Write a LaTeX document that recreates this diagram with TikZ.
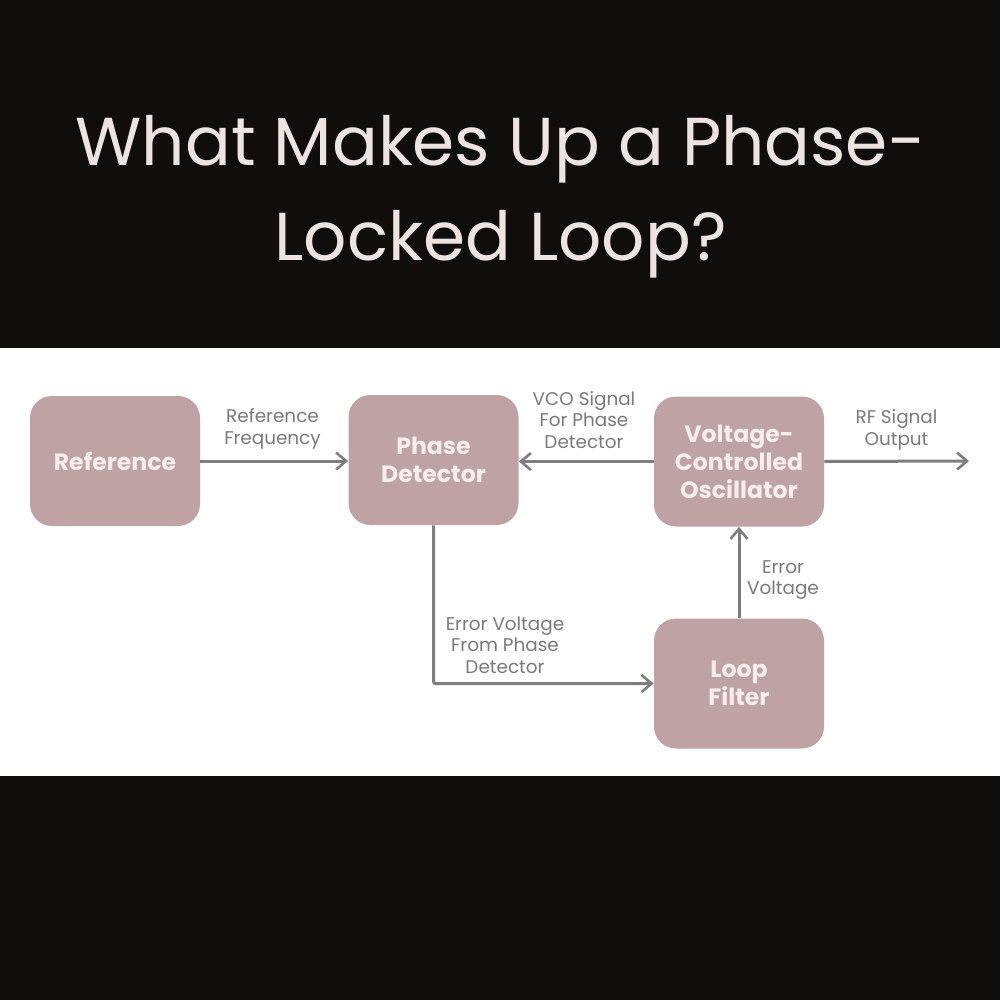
\documentclass[tikz,border=0pt]{standalone}
\usepackage{fontspec}
\setmainfont{Poppins}
\usetikzlibrary{arrows.meta}
\definecolor{bgdark}{HTML}{0F0E0D}
\definecolor{boxfill}{HTML}{BFA2A4}
\definecolor{boxtext}{HTML}{F7EEEB}
\definecolor{titletext}{HTML}{EDE3E1}
\definecolor{wire}{HTML}{7E7E7E}
\definecolor{lbl}{HTML}{7A7A7A}
\tikzset{
  x=0.5pt,y=-0.5pt,
  blockbox/.style={draw=none,fill=boxfill,rounded corners=11pt,minimum width=85pt,minimum height=65pt,inner sep=0pt,align=center,text=boxtext,font=\fontsize{11.8pt}{14pt}\selectfont\bfseries},
  wirelabel/.style={align=center,text=lbl,inner sep=0pt,font=\fontsize{9.2pt}{10.75pt}\selectfont},
  flow/.style={draw=wire,line width=1.5pt,-{Straight Barb[length=5pt,width=8.5pt,line width=1.3pt]}},
  titlelabel/.style={text=titletext,inner sep=0pt,font=\fontsize{33.9pt}{47.5pt}\selectfont,align=center}
}
\begin{document}
\begin{tikzpicture}
\useasboundingbox (0,0) rectangle (1000,1000);
\fill[bgdark] (0,0) rectangle (1000,1000);
\fill[white] (0,348) rectangle (1000,776);
\node[titlelabel] (title) at (500.5,197) {What Makes Up a Phase-\\Locked Loop?};
\node[blockbox] (ref) at (115,461) {Reference};
\node[blockbox] (pd) at (433.5,460) {Phase\\Detector};
\node[blockbox] (vco) at (739,461.5) {Voltage-\\Controlled\\Oscillator};
\node[blockbox] (lf) at (739,683.5) {Loop\\Filter};
\coordinate (out) at (969,461);
\draw[flow] (ref.east) -- (pd.west |- ref.east);
\draw[flow] (vco.west) -- (pd.east |- vco.west);
\draw[flow] (vco.east) -- (out);
\draw[flow] (lf.north) -- (vco.south);
\draw[flow,rounded corners=1pt] (pd.south) |- (lf.west);
\node[wirelabel] (l1) at (272.5,429) {Reference\\Frequency};
\node[wirelabel] (l2) at (584,420) {VCO Signal\\For Phase\\Detector};
\node[wirelabel] (l3) at (896.5,430) {RF Signal\\Output};
\node[wirelabel] (l4) at (783,580) {Error\\Voltage};
\node[wirelabel] (l5) at (505,645) {Error Voltage\\From Phase\\Detector};
\end{tikzpicture}
\end{document}
